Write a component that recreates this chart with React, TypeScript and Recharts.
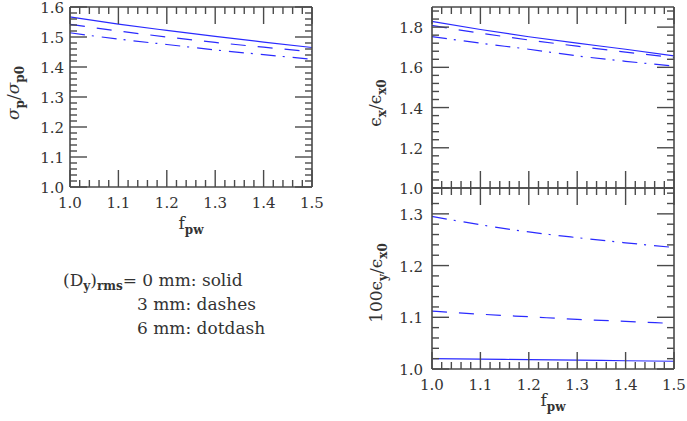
import React from 'react';
import { LineChart, Line, XAxis, YAxis } from 'recharts';

const fpw = [1.0, 1.1, 1.2, 1.3, 1.4, 1.5];

// sigma_p / sigma_p0
const sigSolid = [1.567, 1.543, 1.522, 1.502, 1.483, 1.465];
const sigDash = [1.542, 1.520, 1.500, 1.482, 1.466, 1.451];
const sigDotDash = [1.514, 1.493, 1.475, 1.457, 1.441, 1.426];

// eps_x / eps_x0
const exSolid = [1.828, 1.788, 1.752, 1.720, 1.690, 1.657];
const exDash = [1.808, 1.770, 1.736, 1.705, 1.676, 1.648];
const exDotDash = [1.753, 1.720, 1.690, 1.657, 1.630, 1.606];

// 100 eps_y / eps_x0
const eySolid = [1.020, 1.019, 1.018, 1.017, 1.016, 1.015];
const eyDash = [1.112, 1.106, 1.101, 1.096, 1.092, 1.088];
const eyDotDash = [1.295, 1.279, 1.265, 1.254, 1.244, 1.235];

const xMajor = [1.0, 1.1, 1.2, 1.3, 1.4, 1.5];
const sigMajor = [1.0, 1.1, 1.2, 1.3, 1.4, 1.5, 1.6];
const exMajor = [1.0, 1.2, 1.4, 1.6, 1.8];
const eyMajor = [1.0, 1.1, 1.2, 1.3];

const steps = (lo: number, hi: number, step: number) => {
  const out: number[] = [];
  for (let v = lo; v <= hi + 1e-9; v += step) out.push(Math.round(v * 1000) / 1000);
  return out;
};

const xMinor = steps(1.0, 1.5, 0.02);
const sigMinor = steps(1.0, 1.6, 0.02);
const exMinor = steps(1.0, 1.9, 0.04);
const eyMinor = steps(1.0, 1.34, 0.02);

const FONT = 'DejaVu Serif';
const AXIS = '#4a4a4a';
const TEXT = '#333';
const BLUE = '#2a2aff';

const build = (s: number[], d: number[], dd: number[]) =>
  fpw.map((f, i) => ({ f, s: s[i], d: d[i], dd: dd[i] }));

const tickMark = (side: string, majors: number[], labels: boolean, gap: number) => (props: any) => {
  const { x, y, payload } = props;
  const v = payload.value;
  const major = majors.some((m) => Math.abs(m - v) < 1e-6);
  const len = major ? 17 : 7;
  let line;
  if (side === 'bottom') line = <line x1={x} y1={y} x2={x} y2={y - len} />;
  else if (side === 'top') line = <line x1={x} y1={y} x2={x} y2={y + len} />;
  else if (side === 'left') line = <line x1={x} y1={y} x2={x + len} y2={y} />;
  else line = <line x1={x} y1={y} x2={x - len} y2={y} />;
  return (
    <g>
      <g stroke={AXIS} strokeWidth={1.4}>{line}</g>
      {labels && major && side === 'bottom' && (
        <text x={x} y={y + gap} textAnchor="middle" fontFamily={FONT} fontSize={15} fill={TEXT}>{v.toFixed(1)}</text>
      )}
      {labels && major && side === 'left' && (
        <text x={x - gap} y={y + 6} textAnchor="end" fontFamily={FONT} fontSize={15} fill={TEXT}>{v.toFixed(1)}</text>
      )}
    </g>
  );
};

interface PanelProps {
  data: any[];
  yDomain: [number, number];
  yMajor: number[];
  yMinor: number[];
  plot: { top: number; left: number; right: number; bottom: number };
  xLabels: boolean;
  yGap: number;
}

// plot gives the pixel box of the frame; axes take 1px each, so the margins are trimmed by 1
const Panel = ({ data, yDomain, yMajor, yMinor, plot, xLabels, yGap }: PanelProps) => (
  <div style={{ position: 'absolute', left: 0, top: 0 }}>
    <LineChart width={687} height={421} data={data}
      margin={{ top: plot.top - 1, left: plot.left - 1, right: 687 - plot.right - 1, bottom: 421 - plot.bottom - 1 }}>
      <XAxis xAxisId="b" dataKey="f" type="number" domain={[1.0, 1.5]} ticks={xMinor} interval={0}
        orientation="bottom" height={1} tickSize={0} tickMargin={0} tickLine={false}
        axisLine={{ stroke: AXIS, strokeWidth: 1.6 }} tick={tickMark('bottom', xMajor, xLabels, 21)} allowDataOverflow />
      <XAxis xAxisId="t" dataKey="f" type="number" domain={[1.0, 1.5]} ticks={xMinor} interval={0}
        orientation="top" height={1} tickSize={0} tickMargin={0} tickLine={false}
        axisLine={{ stroke: AXIS, strokeWidth: 1.6 }} tick={tickMark('top', xMajor, false, 0)} allowDataOverflow />
      <YAxis yAxisId="l" type="number" domain={yDomain} ticks={yMinor} interval={0}
        orientation="left" width={1} tickSize={0} tickMargin={0} tickLine={false}
        axisLine={{ stroke: AXIS, strokeWidth: 1.6 }} tick={tickMark('left', yMajor, true, yGap)} allowDataOverflow />
      <YAxis yAxisId="r" type="number" domain={yDomain} ticks={yMinor} interval={0}
        orientation="right" width={1} tickSize={0} tickMargin={0} tickLine={false}
        axisLine={{ stroke: AXIS, strokeWidth: 1.6 }} tick={tickMark('right', yMajor, false, 0)} allowDataOverflow />
      <Line xAxisId="b" yAxisId="l" type="monotone" dataKey="s" stroke={BLUE} strokeWidth={1.2} dot={false} isAnimationActive={false} />
      <Line xAxisId="b" yAxisId="l" type="monotone" dataKey="d" stroke={BLUE} strokeWidth={1.2} strokeDasharray="15 12" dot={false} isAnimationActive={false} />
      <Line xAxisId="b" yAxisId="l" type="monotone" dataKey="dd" stroke={BLUE} strokeWidth={1.2} strokeDasharray="15 7 2 8" dot={false} isAnimationActive={false} />
    </LineChart>
  </div>
);

const sub = { fontSize: 12, fontWeight: 'bold' as const };

export default function App() {
  return (
    <div style={{ position: 'absolute', left: 0, top: 0, width: 687, height: 421, background: '#fff', overflow: 'hidden' }}>
      <Panel data={build(sigSolid, sigDash, sigDotDash)} yDomain={[1.0, 1.6]} yMajor={sigMajor} yMinor={sigMinor}
        plot={{ top: 7, left: 70, right: 312, bottom: 187 }} xLabels yGap={6} />
      <Panel data={build(exSolid, exDash, exDotDash)} yDomain={[1.0, 1.9]} yMajor={exMajor} yMinor={exMinor}
        plot={{ top: 7, left: 432, right: 674, bottom: 188 }} xLabels={false} yGap={9} />
      <Panel data={build(eySolid, eyDash, eyDotDash)} yDomain={[1.0, 1.35]} yMajor={eyMajor} yMinor={eyMinor}
        plot={{ top: 188, left: 432, right: 674, bottom: 369 }} xLabels yGap={9} />
      <svg width={687} height={421} style={{ position: 'absolute', left: 0, top: 0, pointerEvents: 'none' }}
        fontFamily={FONT} fill={TEXT}>
        <text transform="translate(19,93) rotate(-90)" textAnchor="middle" fontSize={17}>
          <tspan fontStyle="italic">σ</tspan><tspan dy={5} {...sub}>p</tspan>
          <tspan dy={-5}>/</tspan><tspan fontStyle="italic">σ</tspan><tspan dy={5} {...sub}>p0</tspan>
        </text>
        <text x={191} y={229} textAnchor="middle" fontSize={17}>
          f<tspan dy={5} {...sub}>pw</tspan>
        </text>
        <text transform="translate(381,103) rotate(-90)" textAnchor="middle" fontSize={17}>
          ϵ<tspan dy={5} {...sub}>x</tspan><tspan dy={-5}>/ϵ</tspan><tspan dy={5} {...sub}>x0</tspan>
        </text>
        <text transform="translate(382,283) rotate(-90)" textAnchor="middle" fontSize={17}>
          100ϵ<tspan dy={5} {...sub}>y</tspan><tspan dy={-5}>/ϵ</tspan><tspan dy={5} {...sub}>x0</tspan>
        </text>
        <text x={553} y={406} textAnchor="middle" fontSize={17}>
          f<tspan dy={5} {...sub}>pw</tspan>
        </text>
        <text x={63} y={286} fontSize={17}>
          (D<tspan dy={4} {...sub}>y</tspan><tspan dy={-4}>)</tspan><tspan dy={4} {...sub}>rms</tspan>
          <tspan dy={-4}>= 0 mm: solid</tspan>
        </text>
        <text x={137} y={310} fontSize={17}>3 mm: dashes</text>
        <text x={137} y={334} fontSize={17}>6 mm: dotdash</text>
      </svg>
    </div>
  );
}
